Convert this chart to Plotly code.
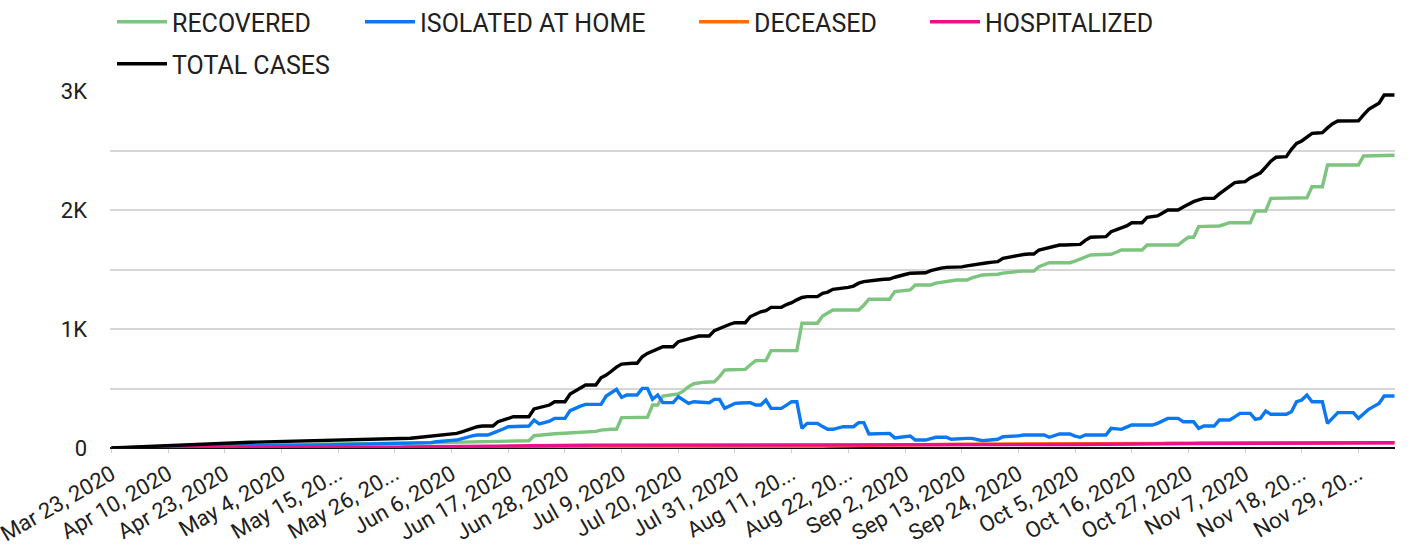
import pandas as pd
import plotly.graph_objects as go

# ---- categories (report dates) ----
early_dates = ["2020-03-23", "2020-03-25", "2020-03-27", "2020-03-29", "2020-03-31",
               "2020-04-02", "2020-04-03", "2020-04-05", "2020-04-06", "2020-04-08",
               "2020-04-09", "2020-04-10", "2020-04-11", "2020-04-13", "2020-04-14",
               "2020-04-15", "2020-04-16", "2020-04-17", "2020-04-18", "2020-04-20",
               "2020-04-21", "2020-04-22"]
daily_start = "2020-04-23"
daily_end = "2020-12-06"

tick_labels = ["Mar 23, 2020", "Apr 10, 2020", "Apr 23, 2020", "May 4, 2020", "May 15, 20...",
               "May 26, 20...", "Jun 6, 2020", "Jun 17, 2020", "Jun 28, 2020", "Jul 9, 2020",
               "Jul 20, 2020", "Jul 31, 2020", "Aug 11, 20...", "Aug 22, 20...", "Sep 2, 2020",
               "Sep 13, 2020", "Sep 24, 2020", "Oct 5, 2020", "Oct 16, 2020", "Oct 27, 2020",
               "Nov 7, 2020", "Nov 18, 20...", "Nov 29, 20..."]
tick_every = 11

# ---- series values ----
total_cases = [
    0, 2, 4, 6, 8, 10, 12, 14, 16, 18, 20,
    22, 24, 26, 28, 30, 32, 34, 36, 38, 40, 41,
    42, 44, 45, 46, 47, 48, 49, 50, 50, 51, 52,
    53, 53, 54, 55, 55, 56, 57, 58, 59, 61, 62,
    63, 64, 65, 66, 66, 67, 68, 69, 70, 71, 72,
    73, 76, 78, 82, 86, 90, 95, 98, 103, 110, 114,
    118, 123, 135, 150, 165, 179, 185, 185, 185, 221, 232,
    248, 263, 263, 263, 263, 328, 340, 355, 361, 389, 389,
    389, 454, 478, 505, 529, 529, 529, 590, 613, 645, 680,
    705, 712, 712, 712, 767, 795, 815, 830, 851, 851, 851,
    893, 905, 922, 930, 941, 941, 941, 986, 1005, 1025, 1040,
    1053, 1053, 1053, 1105, 1123, 1145, 1154, 1182, 1182, 1182, 1205,
    1221, 1245, 1265, 1272, 1272, 1272, 1300, 1310, 1333, 1338, 1342,
    1350, 1361, 1385, 1398, 1405, 1410, 1414, 1418, 1420, 1435, 1450,
    1458, 1468, 1470, 1471, 1473, 1490, 1502, 1512, 1518, 1518, 1518,
    1522, 1530, 1538, 1548, 1553, 1557, 1562, 1566, 1594, 1603, 1612,
    1622, 1626, 1630, 1630, 1664, 1675, 1688, 1698, 1706, 1706, 1708,
    1710, 1711, 1745, 1771, 1773, 1775, 1776, 1818, 1835, 1852, 1866,
    1893, 1893, 1893, 1938, 1945, 1950, 1975, 2000, 2000, 2000, 2025,
    2050, 2070, 2085, 2098, 2098, 2098, 2135, 2168, 2200, 2230, 2235,
    2238, 2270, 2294, 2313, 2360, 2410, 2443, 2446, 2448, 2510, 2560,
    2580, 2615, 2644, 2647, 2650, 2690, 2725, 2748, 2748, 2749, 2750,
    2750, 2800, 2846, 2872, 2897, 2966, 2966, 2966]

recovered = [
    0, 0, 0, 0, 1, 2, 3, 4, 5, 6, 7,
    8, 9, 10, 11, 12, 13, 14, 15, 16, 17, 18,
    19, 20, 21, 22, 23, 24, 25, 26, 27, 27, 28,
    28, 29, 29, 30, 30, 31, 31, 32, 32, 33, 33,
    34, 34, 35, 35, 36, 36, 37, 37, 38, 38, 39,
    39, 40, 40, 41, 42, 43, 44, 45, 46, 47, 48,
    49, 50, 51, 52, 53, 55, 56, 57, 58, 59, 59,
    60, 60, 61, 61, 61, 103, 109, 115, 118, 120, 122,
    124, 126, 128, 129, 133, 137, 140, 150, 157, 157, 157,
    255, 255, 255, 255, 255, 258, 361, 361, 437, 445, 450,
    454, 480, 515, 540, 549, 553, 555, 557, 600, 655, 657,
    659, 660, 661, 700, 734, 734, 734, 818, 818, 818, 818,
    818, 818, 1048, 1048, 1048, 1048, 1109, 1135, 1160, 1160, 1160,
    1160, 1160, 1160, 1200, 1250, 1250, 1250, 1250, 1250, 1314, 1318,
    1322, 1328, 1370, 1370, 1370, 1370, 1385, 1392, 1398, 1412, 1412,
    1412, 1412, 1430, 1445, 1454, 1456, 1458, 1460, 1470, 1476, 1482,
    1484, 1486, 1487, 1487, 1524, 1540, 1557, 1557, 1557, 1557, 1557,
    1570, 1586, 1605, 1622, 1624, 1626, 1627, 1628, 1645, 1664, 1664,
    1664, 1664, 1664, 1706, 1706, 1706, 1706, 1706, 1706, 1706, 1740,
    1771, 1771, 1860, 1862, 1863, 1865, 1866, 1880, 1893, 1893, 1893,
    1893, 1893, 1992, 1992, 1992, 2098, 2099, 2100, 2100, 2101, 2102,
    2103, 2103, 2196, 2196, 2196, 2378, 2378, 2378, 2378, 2378, 2378,
    2378, 2454, 2455, 2456, 2457, 2458, 2459, 2460]

isolated_at_home = [
    0, 1, 2, 3, 4, 5, 6, 7, 8, 9, 10,
    11, 12, 12, 13, 13, 14, 14, 15, 15, 16, 16,
    17, 17, 18, 18, 19, 19, 20, 20, 20, 21, 21,
    22, 22, 22, 23, 23, 24, 24, 25, 25, 26, 26,
    27, 27, 28, 28, 29, 30, 31, 32, 33, 34, 35,
    36, 37, 38, 39, 39, 40, 42, 45, 52, 58, 62,
    64, 67, 80, 95, 102, 109, 109, 109, 125, 146, 160,
    179, 181, 183, 185, 185, 235, 202, 213, 225, 249, 249,
    249, 314, 335, 352, 367, 367, 367, 367, 437, 465, 493,
    426, 445, 445, 445, 501, 501, 410, 445, 381, 381, 381,
    431, 400, 375, 389, 385, 383, 381, 409, 409, 333, 355,
    375, 378, 380, 381, 361, 361, 403, 333, 333, 333, 360,
    389, 389, 165, 207, 207, 207, 180, 157, 157, 170, 179,
    179, 179, 213, 213, 118, 120, 122, 123, 123, 85, 88,
    95, 101, 67, 67, 67, 78, 90, 90, 90, 73, 77,
    81, 81, 81, 70, 61, 65, 70, 73, 95, 95, 95,
    102, 109, 109, 109, 109, 109, 90, 104, 118, 118, 118,
    100, 90, 109, 109, 109, 109, 109, 165, 160, 157, 175,
    193, 193, 193, 193, 193, 207, 228, 249, 249, 249, 221,
    221, 221, 165, 185, 185, 185, 235, 235, 235, 262, 291,
    291, 291, 241, 250, 311, 283, 283, 283, 283, 305, 389,
    403, 445, 389, 389, 389, 207, 255, 297, 297, 297, 297,
    249, 290, 325, 350, 375, 437, 437, 437]

deceased = [
    0, 0, 0, 0, 0, 0, 0, 0, 1, 1, 1,
    1, 1, 1, 2, 2, 2, 2, 2, 2, 3, 3,
    3, 3, 3, 3, 3, 3, 3, 3, 3, 3, 3,
    4, 4, 4, 4, 4, 4, 4, 4, 4, 4, 4,
    4, 4, 4, 4, 4, 4, 4, 4, 4, 4, 4,
    4, 4, 4, 4, 4, 4, 5, 5, 5, 5, 5,
    5, 5, 5, 5, 5, 5, 5, 5, 6, 6, 6,
    6, 6, 6, 7, 7, 7, 7, 7, 7, 8, 8,
    8, 8, 8, 8, 9, 9, 9, 9, 9, 9, 10,
    10, 10, 10, 10, 10, 10, 11, 11, 11, 11, 11,
    11, 11, 11, 12, 12, 12, 12, 12, 12, 12, 12,
    13, 13, 13, 13, 13, 13, 13, 13, 14, 14, 14,
    14, 14, 14, 14, 15, 15, 15, 16, 16, 17, 18,
    19, 20, 21, 22, 22, 23, 24, 25, 26, 27, 27,
    28, 28, 29, 29, 30, 30, 30, 31, 31, 31, 31,
    32, 32, 32, 32, 33, 33, 33, 33, 33, 34, 34,
    34, 34, 34, 35, 35, 35, 35, 35, 36, 36, 36,
    36, 36, 37, 37, 37, 37, 37, 38, 38, 38, 38,
    38, 38, 39, 39, 39, 39, 39, 40, 40, 40, 40,
    40, 40, 41, 41, 41, 41, 41, 41, 41, 42, 42,
    42, 42, 42, 42, 42, 43, 43, 43, 43, 43, 43,
    43, 44, 44, 44, 44, 44, 44, 44, 44, 45, 45,
    45, 45, 45, 45, 45, 45, 45, 45]

hospitalized = [
    0, 0, 1, 1, 2, 2, 3, 3, 3, 4, 4,
    4, 5, 5, 5, 5, 6, 6, 6, 6, 6, 6,
    6, 6, 6, 6, 6, 6, 6, 6, 6, 6, 6,
    6, 6, 6, 6, 6, 6, 6, 6, 6, 6, 6,
    6, 6, 6, 6, 6, 6, 6, 7, 7, 7, 7,
    7, 7, 8, 8, 8, 8, 9, 9, 10, 10, 11,
    11, 12, 12, 13, 13, 14, 14, 15, 15, 16, 16,
    17, 17, 18, 18, 19, 19, 20, 20, 21, 21, 22,
    22, 22, 23, 23, 23, 24, 24, 24, 24, 25, 25,
    25, 25, 25, 26, 26, 26, 26, 26, 26, 26, 26,
    26, 26, 26, 25, 25, 25, 25, 25, 25, 25, 24,
    24, 24, 24, 24, 24, 24, 24, 23, 23, 23, 23,
    23, 23, 23, 23, 22, 22, 22, 22, 22, 22, 22,
    22, 22, 22, 22, 22, 22, 22, 22, 22, 22, 22,
    22, 22, 22, 22, 22, 22, 23, 23, 23, 23, 23,
    24, 24, 24, 24, 24, 25, 25, 25, 25, 26, 26,
    26, 26, 27, 27, 27, 28, 28, 28, 29, 29, 29,
    30, 30, 30, 31, 31, 31, 32, 32, 32, 33, 33,
    33, 34, 34, 34, 35, 35, 35, 36, 36, 36, 37,
    37, 37, 38, 38, 38, 38, 39, 39, 39, 39, 40,
    40, 40, 40, 40, 41, 41, 41, 41, 41, 42, 42,
    42, 42, 42, 42, 43, 43, 43, 43, 43, 43, 43,
    43, 43, 44, 44, 44, 44, 44, 44]

# ---- build categories ----
dates = pd.to_datetime(early_dates).append(pd.date_range(daily_start, daily_end, freq="D"))
categories = [f"{d.strftime('%b')} {d.day}, {d.year}" for d in dates]
n = len(categories)
for s in (total_cases, recovered, isolated_at_home, deceased, hospitalized):
    assert len(s) == n, (len(s), n)

FONT = "Roboto"
W, H = 1410, 545

series = [
    ("RECOVERED", recovered, "#7dc47f", "legend"),
    ("ISOLATED AT HOME", isolated_at_home, "#0a78f2", "legend2"),
    ("DECEASED", deceased, "#ff6d00", "legend3"),
    ("HOSPITALIZED", hospitalized, "#ec0f8c", "legend4"),
    ("TOTAL CASES", total_cases, "#000000", "legend5"),
]

fig = go.Figure()
for name, vals, color, lg in series:
    fig.add_trace(go.Scatter(
        x=categories, y=vals, name=name, mode="lines",
        line=dict(color=color, width=3.4), legend=lg,
        hovertemplate="%{x}<br>" + name + ": %{y}<extra></extra>",
    ))

# legend placements (container coordinates, pixel based)
legend_pos = {
    "legend": (112, 22),
    "legend2": (360, 22),
    "legend3": (694, 22),
    "legend4": (925, 22),
    "legend5": (112, 64),
}
legend_common = dict(
    orientation="h", xref="container", yref="container",
    xanchor="left", yanchor="middle", bgcolor="rgba(0,0,0,0)",
    font=dict(family=FONT, size=25, color="#202020"),
    itemwidth=50, borderwidth=0,
)
layout_legends = {}
for key, (px, py) in legend_pos.items():
    layout_legends[key] = dict(legend_common, x=px / W, y=1 - py / H)

tickvals = categories[::tick_every][:len(tick_labels)]

fig.update_layout(
    width=W, height=H,
    margin=dict(l=110, r=15, t=91, b=97, autoexpand=False),
    paper_bgcolor="white", plot_bgcolor="white",
    font=dict(family=FONT, color="#202020"),
    showlegend=True,
    **layout_legends,
)
fig.update_xaxes(
    type="category", range=[-0.3, n - 0.9],
    tickmode="array", tickvals=tickvals, ticktext=tick_labels,
    tickangle=-30, tickfont=dict(family=FONT, size=22, color="#202020"),
    showgrid=False, zeroline=False, showline=False,
    ticks="outside", ticklen=4, tickcolor="#d0d0d0", automargin=False,
)
fig.update_yaxes(
    range=[0, 3000], tickmode="array",
    tickvals=[0, 500, 1000, 1500, 2000, 2500, 3000],
    ticktext=["0", "", "1K", "", "2K", "", "3K"],
    tickfont=dict(family=FONT, size=22, color="#202020"),
    showgrid=True, gridcolor="#d6d6d6", gridwidth=2,
    zeroline=True, zerolinecolor="#111111", zerolinewidth=2,
    ticklabelstandoff=22, automargin=False,
)

fig.write_html(
    "out.html",
    config={"displayModeBar": False},
    post_script="document.body.style.margin='0';document.body.style.overflow='hidden';",
)
